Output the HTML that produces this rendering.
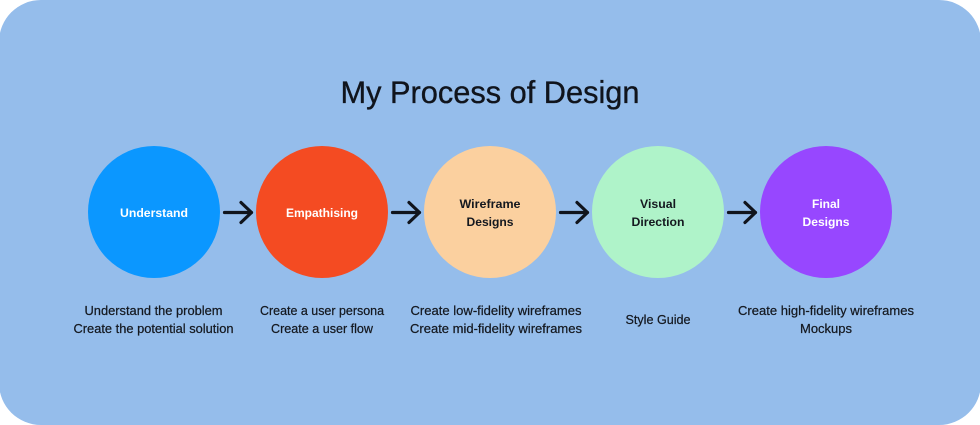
<!DOCTYPE html>
<html>
<head>
<meta charset="utf-8">
<style>
html,body{margin:0;padding:0;background:#fff;}
svg{display:block;}
text{font-family:"Liberation Sans",sans-serif;text-anchor:middle;}
.t{font-size:12.6px;fill:#14181f;stroke:#14181f;stroke-width:0.22px;}
.c{font-size:12.2px;font-weight:bold;}
</style>
</head>
<body>
<svg width="980" height="425" viewBox="0 0 980 425" xmlns="http://www.w3.org/2000/svg">
<rect x="-1" y="0" width="982" height="425" rx="42" ry="42" fill="#95bdeb"/>
<text x="490" y="103" font-size="31.5" fill="#10141c" stroke="#10141c" stroke-width="0.35" textLength="299" lengthAdjust="spacingAndGlyphs">My Process of Design</text>

<circle cx="154" cy="212" r="66" fill="#0b97ff"/>
<circle cx="322" cy="212" r="66" fill="#f44b22"/>
<circle cx="490" cy="212" r="66" fill="#fbd09f"/>
<circle cx="658" cy="212" r="66" fill="#aff3c9"/>
<circle cx="826" cy="212" r="66" fill="#9747ff"/>

<g fill="none" stroke="#10141c" stroke-width="3.2" stroke-linecap="round" stroke-linejoin="round">
<path d="M224.500 212.500H251.500M241 202.500L251.500 212.500L241 222.500"/>
<path d="M392.500 212.500H419.500M409 202.500L419.500 212.500L409 222.500"/>
<path d="M560.500 212.500H587.500M577 202.500L587.500 212.500L577 222.500"/>
<path d="M728.500 212.500H755.500M745 202.500L755.500 212.500L745 222.500"/>
</g>

<text class="c" x="154" y="217" fill="#fff" textLength="68" lengthAdjust="spacingAndGlyphs">Understand</text>
<text class="c" x="322" y="217" fill="#fff" textLength="72" lengthAdjust="spacingAndGlyphs">Empathising</text>
<text class="c" x="490" y="208" fill="#14181f" textLength="61" lengthAdjust="spacingAndGlyphs">Wireframe</text>
<text class="c" x="490" y="226" fill="#14181f" textLength="47" lengthAdjust="spacingAndGlyphs">Designs</text>
<text class="c" x="658" y="208" fill="#14181f" textLength="36" lengthAdjust="spacingAndGlyphs">Visual</text>
<text class="c" x="658" y="226" fill="#14181f" textLength="53" lengthAdjust="spacingAndGlyphs">Direction</text>
<text class="c" x="826" y="208" fill="#fff" textLength="28" lengthAdjust="spacingAndGlyphs">Final</text>
<text class="c" x="826" y="226" fill="#fff" textLength="47" lengthAdjust="spacingAndGlyphs">Designs</text>

<text class="t" x="153.500" y="315" textLength="138" lengthAdjust="spacingAndGlyphs">Understand the problem</text>
<text class="t" x="153.500" y="333" textLength="160" lengthAdjust="spacingAndGlyphs">Create the potential solution</text>
<text class="t" x="322" y="315" textLength="124" lengthAdjust="spacingAndGlyphs">Create a user persona</text>
<text class="t" x="322" y="333" textLength="102" lengthAdjust="spacingAndGlyphs">Create a user flow</text>
<text class="t" x="496" y="315" textLength="171" lengthAdjust="spacingAndGlyphs">Create low-fidelity wireframes</text>
<text class="t" x="496" y="333" textLength="172" lengthAdjust="spacingAndGlyphs">Create mid-fidelity wireframes</text>
<text class="t" x="658" y="324" textLength="65" lengthAdjust="spacingAndGlyphs">Style Guide</text>
<text class="t" x="826" y="315" textLength="176" lengthAdjust="spacingAndGlyphs">Create high-fidelity wireframes</text>
<text class="t" x="826" y="333" textLength="52" lengthAdjust="spacingAndGlyphs">Mockups</text>
</svg>
</body>
</html>
